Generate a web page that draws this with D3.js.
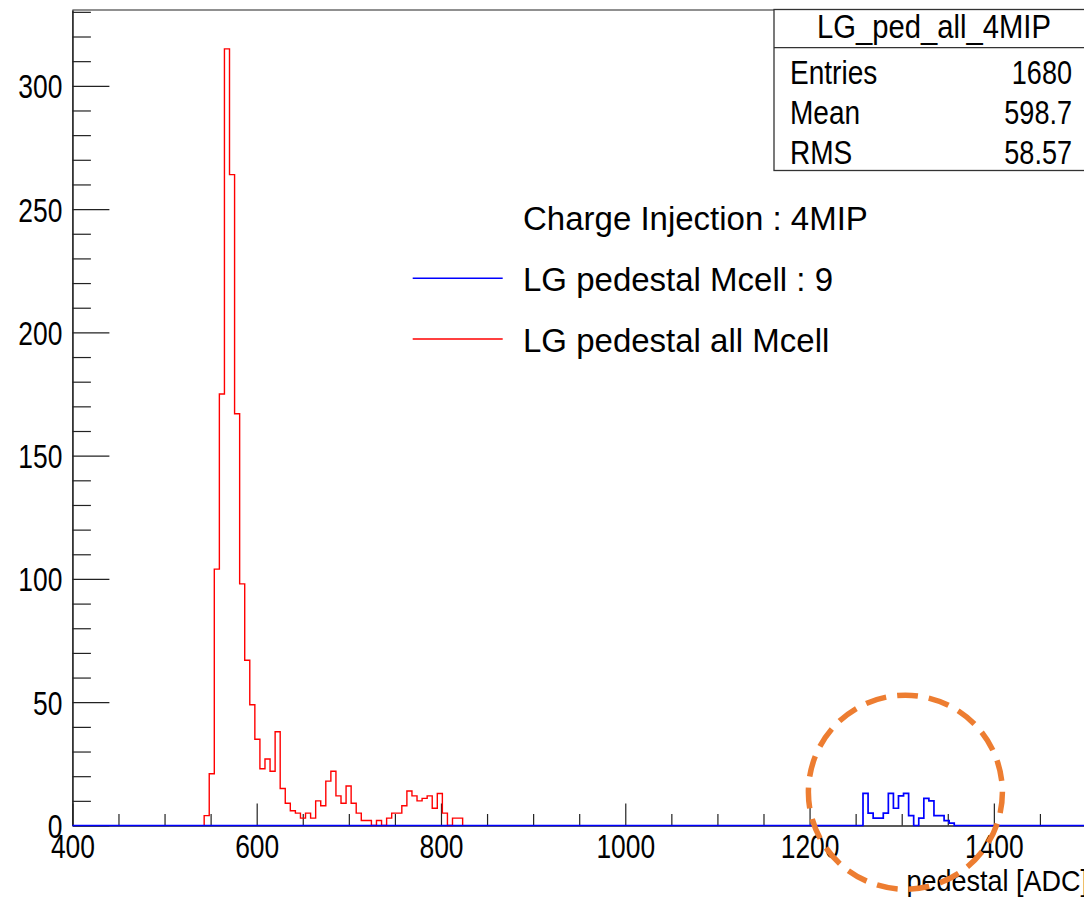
<!DOCTYPE html>
<html lang="en">
<head>
<meta charset="UTF-8">
<title>LG_ped_all_4MIP</title>
<style>
  body { margin: 0; background: #fff; overflow: hidden; }
  text { font-family: "Liberation Sans", Arial, Helvetica, sans-serif; fill: #000; }
</style>
</head>
<body>
<script src="https://cdnjs.cloudflare.com/ajax/libs/d3/7.8.5/d3.min.js"></script>
<script>
// histogram binning (200 bins over 400..1500)
var xMin = 400, xMax = 1500, nBins = 200;
var yMax = 330.75;

// red : all Mcell, counts starting at bin 26
var redFirstBin = 26;
var redCounts = [4,21,104,175,315,264,167,98,67,49,35,23,27,22,38,15,9,6,5,3,
                 5,3,10,8,18,22,12,9,16,9,5,2,2,0,2,0,3,5,5,8,
                 14,12,10,11,12,7,13,5,0,3,3];
// blue : Mcell 9, counts starting at bin 156
var blueFirstBin = 156;
var blueCounts = [13,5,3,3,5,13,7,12,13,4,0,3,11,10,4,4,2,1];

var xMajorTicks = [400,600,800,1000,1200,1400];
var yMajorTicks = [0,50,100,150,200,250,300];
var xTitle = "pedestal [ADC]";

var statsTitle = "LG_ped_all_4MIP";
var statsNames = ["Entries","Mean","RMS"];
var statsValues = ["1680","598.7","58.57"];

var legendHeader = "Charge Injection : 4MIP";
var legendLabels = ["LG pedestal Mcell : 9","LG pedestal all Mcell"];
var legendColors = ["#0000ff","#ff0000"];

// highlighted region (data coords)
var markCenter = [1304, 13.5];

var W = 1084, H = 899;
var frame = {left: 72.4, right: 1086, top: 10, bottom: 825.5};

var x = d3.scaleLinear().domain([xMin, xMax]).range([frame.left, frame.right]);
var y = d3.scaleLinear().domain([0, yMax]).range([frame.bottom, frame.top]);
var binWidth = (xMax - xMin) / nBins;

var svg = d3.select("body").append("svg")
  .attr("width", W)
  .attr("height", H);

svg.append("rect").attr("width", W).attr("height", H).attr("fill", "#fff");

// frame top line
svg.append("line")
  .attr("x1", frame.left).attr("x2", frame.right)
  .attr("y1", frame.top).attr("y2", frame.top)
  .attr("stroke", "#222").attr("stroke-width", 1.2);

// ---- axes ----
var xMinor = d3.range(xMin, xMax + 1, 50).filter(function(v){ return v % 200 != 0; });
var yMinor = d3.range(10, yMax, 10).filter(function(v){ return v % 50 != 0; });

var xAxisMinor = svg.append("g")
  .attr("transform", "translate(0," + frame.bottom + ")")
  .call(d3.axisBottom(x).tickValues(xMinor).tickSizeInner(-11.5).tickSizeOuter(0).tickFormat(""));

var xAxis = svg.append("g")
  .attr("transform", "translate(0," + frame.bottom + ")")
  .call(d3.axisBottom(x).tickValues(xMajorTicks).tickSizeInner(-22).tickSizeOuter(0).tickFormat(d3.format("d")));

xAxis.selectAll("text")
  .attr("y", 33).attr("dy", null)
  .attr("font-size", 33)
  .attr("transform", "scale(0.8,1)");

var yAxisMinor = svg.append("g")
  .attr("transform", "translate(" + frame.left + ",0)")
  .call(d3.axisLeft(y).tickValues(yMinor).tickSizeInner(-18.5).tickSizeOuter(0).tickFormat(""));

var yAxis = svg.append("g")
  .attr("transform", "translate(" + frame.left + ",0)")
  .call(d3.axisLeft(y).tickValues(yMajorTicks).tickSizeInner(-37).tickSizeOuter(0).tickFormat(d3.format("d")));

yAxis.selectAll("text")
  .attr("x", -12.5).attr("y", 12).attr("dy", null)
  .attr("font-size", 33)
  .attr("transform", "scale(0.8,1)");

svg.selectAll(".domain").attr("stroke", "#222").attr("stroke-width", 1.2);
svg.selectAll(".tick line").attr("stroke", "#222").attr("stroke-width", 1.2);
svg.selectAll(".tick text").attr("font-family", null).attr("fill", "#000");

// x title
svg.append("g")
  .attr("transform", "translate(1088,890.7) scale(0.9,1)")
  .append("text")
  .attr("text-anchor", "end")
  .attr("font-size", 30)
  .text(xTitle);

// ---- histograms ----
// full: draw every bin over the whole axis range; otherwise only the filled span
function histPoints(first, counts, full) {
  var pts = [];
  var k0 = full ? 0 : first, k1 = full ? nBins : first + counts.length;
  pts.push([xMin + k0 * binWidth, 0]);
  for (var k = k0; k < k1; k++) {
    var i = k - first;
    var v = (i >= 0 && i < counts.length) ? counts[i] : 0;
    pts.push([xMin + k * binWidth, v]);
  }
  pts.push([xMin + k1 * binWidth, 0]);
  return pts;
}

var step = d3.line()
  .x(function(d){ return x(d[0]); })
  .y(function(d){ return y(d[1]); })
  .curve(d3.curveStepAfter);

svg.append("path")
  .datum(histPoints(redFirstBin, redCounts, false))
  .attr("fill", "none")
  .attr("stroke", "#ff0000")
  .attr("stroke-width", 1.4)
  .attr("d", step);

svg.append("path")
  .datum(histPoints(blueFirstBin, blueCounts, true))
  .attr("fill", "none")
  .attr("stroke", "#0000ff")
  .attr("stroke-width", 1.7)
  .attr("d", step);

// ---- stats box ----
var stats = svg.append("g");
stats.append("rect")
  .attr("x", 774).attr("y", 9.5)
  .attr("width", 400).attr("height", 161)
  .attr("fill", "#fff").attr("stroke", "#333").attr("stroke-width", 1.3);
stats.append("line")
  .attr("x1", 774).attr("x2", 1174)
  .attr("y1", 47.7).attr("y2", 47.7)
  .attr("stroke", "#333").attr("stroke-width", 1.3);
stats.append("g")
  .attr("transform", "translate(934,37.5) scale(0.886,1)")
  .append("text").attr("text-anchor", "middle").attr("font-size", 33)
  .text(statsTitle);

statsNames.forEach(function(name, i){
  var base = 84 + i * 40;
  stats.append("g")
    .attr("transform", "translate(790," + base + ") scale(0.85,1)")
    .append("text").attr("font-size", 33).text(name);
  stats.append("g")
    .attr("transform", "translate(1072," + base + ") scale(0.82,1)")
    .append("text").attr("text-anchor", "end").attr("font-size", 33).text(statsValues[i]);
});

// ---- legend ----
var legend = svg.append("g");
legend.append("text")
  .attr("x", 523).attr("y", 230)
  .attr("font-size", 33)
  .text(legendHeader);

legendLabels.forEach(function(lab, i){
  var base = 291 + i * 60.7;
  legend.append("line")
    .attr("x1", 412.7).attr("x2", 502.7)
    .attr("y1", base - 12.7).attr("y2", base - 12.7)
    .attr("stroke", legendColors[i]).attr("stroke-width", 1.4);
  legend.append("text")
    .attr("x", 523).attr("y", base)
    .attr("font-size", 33)
    .text(lab);
});

// ---- dashed circle annotation ----
svg.append("circle")
  .attr("cx", x(markCenter[0]))
  .attr("cy", y(markCenter[1]))
  .attr("r", 97)
  .attr("fill", "none")
  .attr("stroke", "#ED7D31")
  .attr("stroke-width", 5.5)
  .attr("stroke-dasharray", "21,11");
</script>
</body>
</html>
